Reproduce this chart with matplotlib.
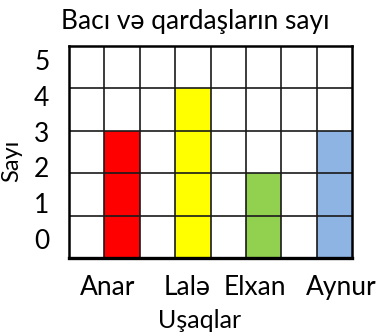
import matplotlib

matplotlib.use("Agg")
import matplotlib.pyplot as plt
import numpy as np

plt.rcParams["font.family"] = ["Lato", "DejaVu Sans"]

# Uşaqların bacı və qardaşlarının sayı
names = ["Anar", "Lalə", "Elxan", "Aynur"]
counts = [3, 4, 2, 3]
colors = ["#FF0000", "#FFFF00", "#92D050", "#8EB4E3"]
bar_columns = [1, 3, 5, 7]          # hər uşağın sütunu (0..7)
name_positions = [1.10, 3.33, 5.25, 7.68]
y_labels = ["0", "1", "2", "3", "4", "5"]
n_cols, n_rows = 8, 5

fig = plt.figure(figsize=(3.79, 3.33), dpi=100)
ax = fig.add_axes([0.182, 0.225, 0.747, 0.637])

for col, val, c in zip(bar_columns, counts, colors):
    ax.bar(col + 0.5, val, width=1.0, color=c, edgecolor="none", zorder=1)

# Şəbəkə xətləri
for x in range(1, n_cols):
    ax.axvline(x, color="#1a1a1a", lw=1.2, zorder=3)
for y in range(1, n_rows):
    ax.axhline(y, color="#1a1a1a", lw=1.2, zorder=3)

ax.set_xlim(0, n_cols)
ax.set_ylim(0, n_rows)
for side in ["left", "right", "top"]:
    ax.spines[side].set_linewidth(1.8)
ax.spines["bottom"].set_linewidth(2.4)
for s in ax.spines.values():
    s.set_zorder(4)

ax.set_yticks(np.linspace(0.46, 4.66, len(y_labels)))
ax.set_yticklabels(y_labels, fontsize=19)
ax.set_xticks(name_positions)
ax.set_xticklabels(names, fontsize=19)
ax.tick_params(length=0)
ax.tick_params(axis="y", pad=14)
ax.tick_params(axis="x", pad=12)

ax.set_ylabel("Sayı", fontsize=17)
ax.yaxis.set_label_coords(-0.165, 0.46)
ax.set_xlabel("Uşaqlar", fontsize=18)
ax.xaxis.set_label_coords(0.46, -0.24)

fig.text(0.515, 0.935, "Bacı və qardaşların sayı", ha="center", va="center",
         fontsize=19)

fig.savefig("out.png", dpi=100)
